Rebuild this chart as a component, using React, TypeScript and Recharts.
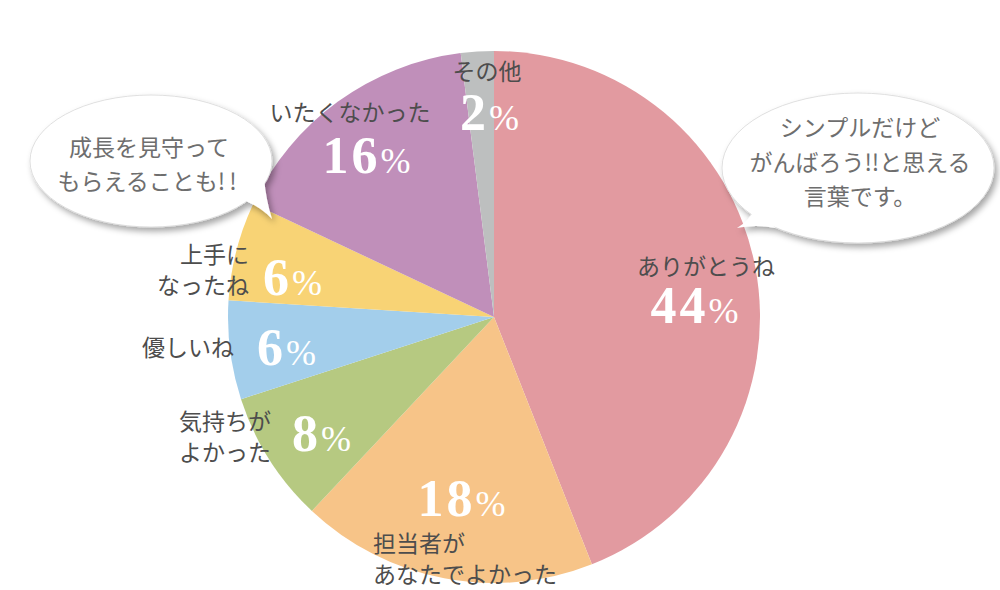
import React from 'react';
import { PieChart, Pie, Cell } from 'recharts';

// ---- data ----
const CATEGORIES = [
  'ありがとうね',
  '担当者が\nあなたでよかった',
  '気持ちが\nよかった',
  '優しいね',
  '上手に\nなったね',
  'いたくなかった',
  'その他',
];
const PERCENTS = [44, 18, 8, 6, 6, 16, 2];
const COLORS = ['#E29AA0', '#F7C488', '#B6C981', '#A3CEEB', '#F8D375', '#C08FBA', '#BDBFBF'];
const BUBBLE_LEFT = ['成長を見守って', 'もらえることも!!'];
const BUBBLE_RIGHT = ['シンプルだけど', 'がんばろう!!と思える', '言葉です。'];

// ---- layout (positions only) ----
type Layout = { lx: number; ly: number; anchor: 'start' | 'middle' | 'end'; px: number; py: number };
const LABEL_LAYOUT: Layout[] = [
  { lx: 706, ly: 275, anchor: 'middle', px: 696, py: 323 },
  { lx: 373, ly: 552, anchor: 'start', px: 463, py: 516 },
  { lx: 179, ly: 430, anchor: 'start', px: 323, py: 451 },
  { lx: 142, ly: 356, anchor: 'start', px: 288, py: 365 },
  { lx: 249, ly: 263, anchor: 'end', px: 294, py: 295 },
  { lx: 350, ly: 121, anchor: 'middle', px: 368, py: 173 },
  { lx: 487, ly: 80, anchor: 'middle', px: 491, py: 130 },
];

const data = CATEGORIES.map((name, i) => ({ name, value: PERCENTS[i] }));

const JP = '"Noto Sans CJK JP", "Noto Sans", sans-serif';
const SERIF = '"Liberation Serif", "Times New Roman", serif';

const renderLabel = (props: any) => {
  const i = props.index;
  const L = LABEL_LAYOUT[i];
  const lines = String(props.name).split('\n');
  return (
    <g key={`lbl-${i}`}>
      <text x={L.lx} y={L.ly} textAnchor={L.anchor} fill="#4d4d4d" fontFamily={JP} fontSize={23}>
        {lines.map((ln, k) => (
          <tspan key={k} x={L.lx} dy={k === 0 ? 0 : 31}>
            {ln}
          </tspan>
        ))}
      </text>
      <text x={L.px} y={L.py} textAnchor="middle" fill="#ffffff" fontFamily={SERIF} letterSpacing={3}>
        <tspan fontSize={52} fontWeight="bold">{props.value}</tspan>
        <tspan fontSize={36} fontWeight="normal">%</tspan>
      </text>
    </g>
  );
};

const Bubbles = () => (
  <svg
    width={1000}
    height={590}
    style={{ position: 'absolute', left: 0, top: 0, pointerEvents: 'none' }}
  >
    <defs>
      <filter id="bshadow" x="-20%" y="-20%" width="140%" height="150%">
        <feDropShadow dx={3} dy={4} stdDeviation={3} floodColor="#000" floodOpacity={0.35} />
      </filter>
    </defs>
    <g filter="url(#bshadow)">
      <ellipse cx={151} cy={161} rx={121} ry={66} fill="#fff" stroke="#d8d8d8" strokeWidth={0.8} />
      <path d="M 264 178 Q 266 200 272 219 Q 262 208 246 201 Z" fill="#fff" />
    </g>
    <g filter="url(#bshadow)">
      <ellipse cx={858} cy={168} rx={136} ry={75} fill="#fff" stroke="#d8d8d8" strokeWidth={0.8} />
      <path d="M 754 210 Q 749 221 737 228 Q 755 224 776 228 Z" fill="#fff" />
    </g>
    <text x={149} y={156} textAnchor="middle" fill="#6e6e6e" fontFamily={JP} fontSize={23}>
      <tspan x={149} dy={0}>{BUBBLE_LEFT[0]}</tspan>
      <tspan x={149} dy={34}>
        {BUBBLE_LEFT[1].replace('!!', '')}
        <tspan letterSpacing={4}>!!</tspan>
      </tspan>
    </text>
    <text x={860} y={136} textAnchor="middle" fill="#6e6e6e" fontFamily={JP} fontSize={23}>
      {BUBBLE_RIGHT.map((ln, k) => (
        <tspan key={k} x={860} dy={k === 0 ? 0 : 34.5}>
          {ln}
        </tspan>
      ))}
    </text>
  </svg>
);

export default function App() {
  return (
    <div style={{ position: 'absolute', left: 0, top: 0, width: 1000, height: 590, background: '#fff' }}>
      <PieChart width={1000} height={590} margin={{ top: 0, right: 0, bottom: 0, left: 0 }}>
        <Pie
          data={data}
          dataKey="value"
          nameKey="name"
          cx={494}
          cy={317}
          outerRadius={266}
          startAngle={90}
          endAngle={-270}
          stroke="none"
          isAnimationActive={false}
          labelLine={false}
          label={renderLabel}
        >
          {data.map((_, i) => (
            <Cell key={i} fill={COLORS[i]} />
          ))}
        </Pie>
      </PieChart>
      <Bubbles />
    </div>
  );
}
